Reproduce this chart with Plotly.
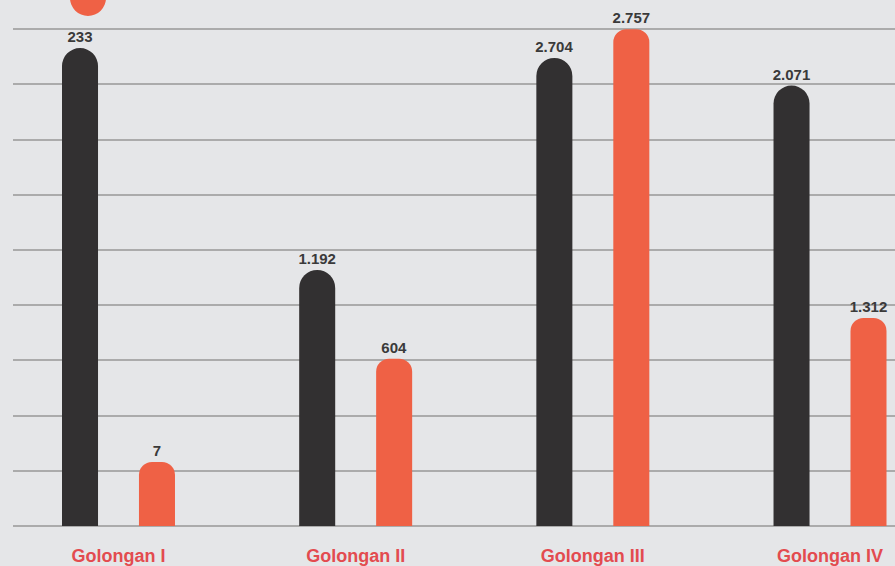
import plotly.graph_objects as go

categories = ["Golongan I", "Golongan II", "Golongan III", "Golongan IV"]
# values printed above the bars
dark_labels = ["233", "1.192", "2.704", "2.071"]
orange_labels = ["7", "604", "2.757", "1.312"]
# drawn bar heights (in gridline units)
dark_heights = [8.66, 4.64, 8.48, 7.98]
orange_heights = [1.16, 3.03, 9.0, 3.77]

DARK = "#323031"
ORANGE = "#ef6145"
BG = "#e5e6e8"

label_font = dict(family="Liberation Sans", size=15, color="#3a3a3a", weight="bold")

fig = go.Figure()
fig.add_trace(go.Bar(
    x=categories, y=dark_heights, text=dark_labels,
    textposition="outside", cliponaxis=False, constraintext="none",
    marker=dict(color=DARK, cornerradius="50%", line=dict(width=0)),
    textfont=label_font, hoverinfo="skip",
))
fig.add_trace(go.Bar(
    x=categories, y=orange_heights, text=orange_labels,
    textposition="outside", cliponaxis=False, constraintext="none",
    marker=dict(color=ORANGE, cornerradius=13, line=dict(width=0)),
    textfont=label_font, hoverinfo="skip",
))

# partially visible legend marker at the top
fig.add_shape(type="circle", xref="paper", yref="paper",
              x0=(70 - 13) / 882, x1=(106 - 13) / 882,
              y0=(528 - 16) / 528, y1=(528 + 20) / 528,
              fillcolor=ORANGE, line=dict(width=0), layer="above")

fig.update_layout(
    width=895, height=566,
    margin=dict(l=13, r=0, t=0, b=38),
    paper_bgcolor=BG, plot_bgcolor=BG,
    barmode="group", bargap=0.351, bargroupgap=0.532,
    showlegend=False,
    xaxis=dict(
        range=[-0.4448, 3.274], showgrid=False, zeroline=False, showline=False,
        ticks="", tickfont=dict(family="Liberation Sans", size=18, color="#e34b4f", weight="bold"),
        ticklabelstandoff=17,
    ),
    yaxis=dict(
        range=[0, 9.53], dtick=1, showgrid=True, gridcolor="#ababab", gridwidth=2,
        zeroline=True, zerolinecolor="#ababab", zerolinewidth=2,
        showticklabels=False, ticks="",
    ),
)

fig.write_html("out.html", config={"displayModeBar": False},
               post_script="document.body.style.margin='0';document.body.style.background='%s';" % BG)
